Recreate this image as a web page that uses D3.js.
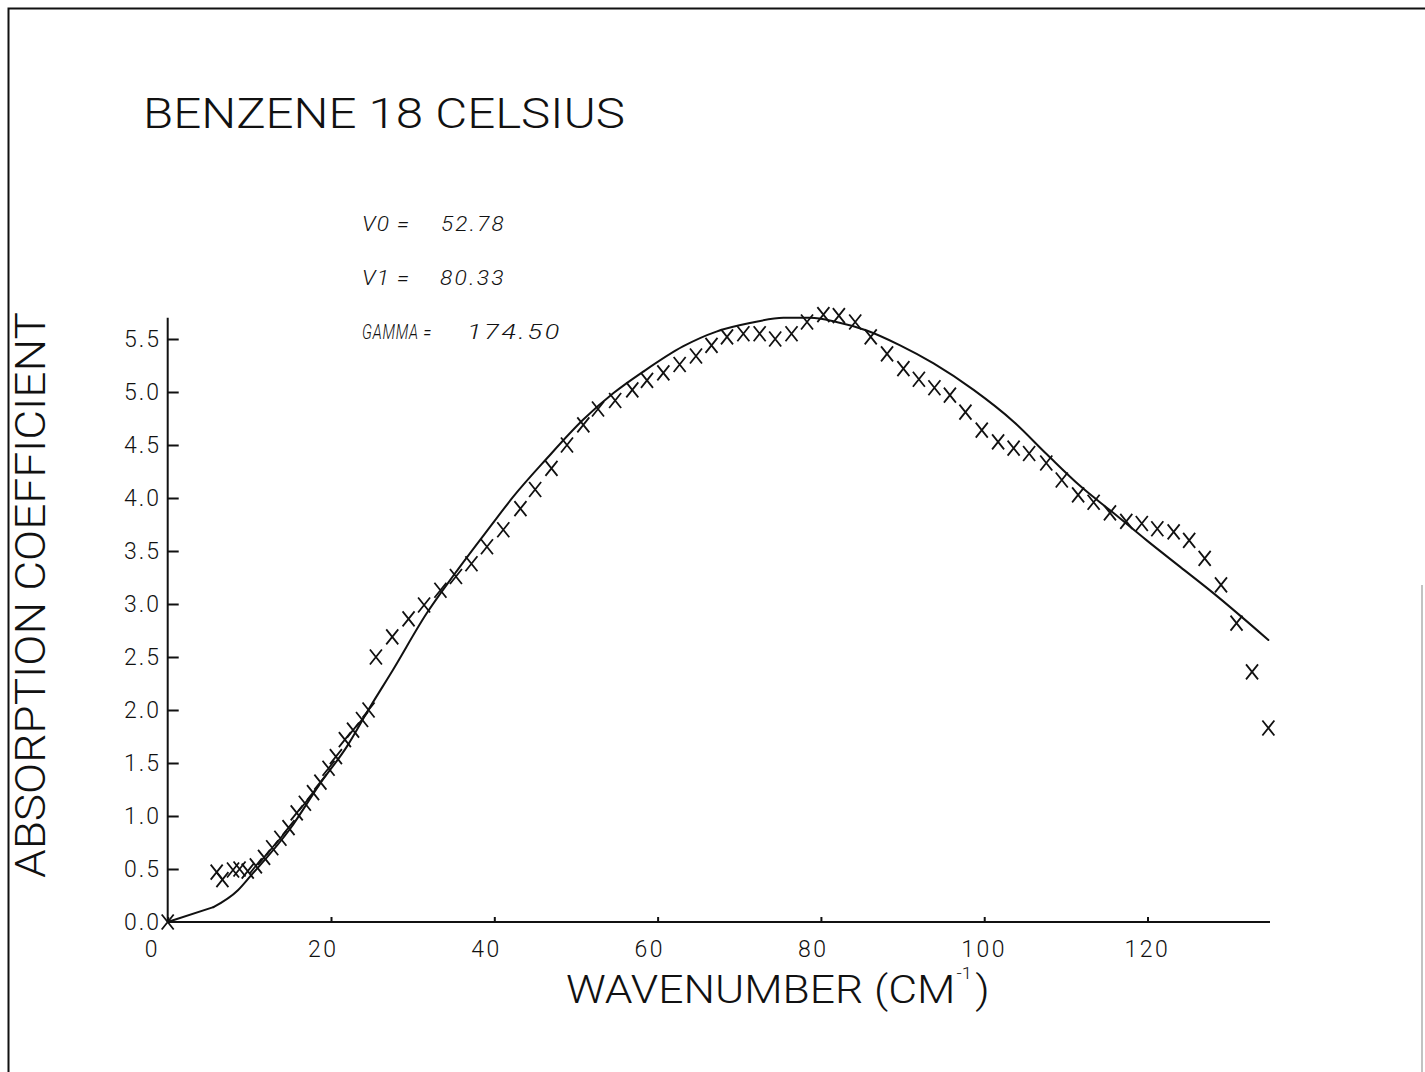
<!DOCTYPE html>
<html>
<head>
<meta charset="utf-8">
<script src="https://cdn.jsdelivr.net/npm/d3@7"></script>
<style>
  html, body { margin: 0; padding: 0; background: #fff; }
  svg { display: block; }
</style>
</head>
<body>
<script>
// Measured absorption coefficient of benzene at 18 °C (plotted as crosses)
const wavenumber = [
  0,
  6.0, 6.7, 8.0, 8.8, 9.8, 10.8, 11.8, 12.8, 13.8, 14.8,
  15.8, 16.8, 17.8, 18.7, 19.7, 20.6, 21.7, 22.7, 23.8, 24.6,
  25.5, 27.5, 29.5, 31.4, 33.4, 35.3, 37.2, 39.1, 41.1, 43.2,
  45.0, 47.0, 48.9, 50.9, 52.7, 54.8, 56.9, 58.7, 60.7, 62.7,
  64.7, 66.6, 68.5, 70.5, 72.5, 74.4, 76.4, 78.3, 80.3, 82.2,
  84.2, 86.1, 88.1, 90.1, 92.0, 93.9, 95.8, 97.7, 99.7, 101.7,
  103.6, 105.5, 107.6, 109.5, 111.5, 113.4, 115.4, 117.4, 119.3, 121.2,
  123.2, 125.1, 127.0, 129.0, 130.9, 132.8, 134.8
];
const absorption = [
  0,
  0.47, 0.40, 0.49, 0.50, 0.48, 0.53, 0.61, 0.70, 0.79, 0.89,
  1.03, 1.12, 1.22, 1.32, 1.45, 1.56, 1.72, 1.81, 1.91, 2.00,
  2.50, 2.69, 2.86, 2.99, 3.13, 3.26, 3.38, 3.54, 3.70, 3.90,
  4.08, 4.28, 4.50, 4.69, 4.84, 4.92, 5.02, 5.11, 5.18, 5.26,
  5.34, 5.44, 5.52, 5.55, 5.55, 5.50, 5.55, 5.66, 5.73, 5.72,
  5.66, 5.52, 5.36, 5.22, 5.12, 5.04, 4.97, 4.81, 4.64, 4.53,
  4.47, 4.42, 4.33, 4.17, 4.03, 3.96, 3.86, 3.78, 3.76, 3.71,
  3.68, 3.60, 3.43, 3.18, 2.82, 2.36, 1.83
];

// Fitted line shape (solid curve)
const fitWavenumber = [
  0, 5.6, 8.6, 10.1, 15.0, 18.7, 21.9, 24.8, 27.6, 31.7,
  35.2, 39.5, 42.3, 46.4, 50.9, 54.6, 58.2, 63.1, 67.2, 71.3,
  75.4, 78.7, 81.9, 85.6, 89.7, 93.8, 98.7, 103.6, 107.7, 111.8,
  115.8, 119.9, 124.0, 128.1, 134.8
];
const fitAbsorption = [
  0, 0.14, 0.30, 0.43, 0.88, 1.31, 1.65, 2.03, 2.38, 2.91,
  3.29, 3.73, 4.01, 4.37, 4.74, 4.99, 5.19, 5.43, 5.57, 5.65,
  5.70, 5.70, 5.66, 5.58, 5.44, 5.27, 5.02, 4.72, 4.41, 4.11,
  3.86, 3.60, 3.35, 3.10, 2.66
];

// Axis ticks and labels
const xTicks = [0, 20, 40, 60, 80, 100, 120];
const yTicks = [0, 0.5, 1.0, 1.5, 2.0, 2.5, 3.0, 3.5, 4.0, 4.5, 5.0, 5.5];
const yTickLabels = ["0.0", "0.5", "1.0", "1.5", "2.0", "2.5", "3.0", "3.5", "4.0", "4.5", "5.0", "5.5"];

// Fit parameters printed on the plot
const paramNames = ["V0", "V1", "GAMMA"];
const paramValues = ["52.78", "80.33", "174.50"];

const titleText = "BENZENE 18 CELSIUS";
const xLabelMain = "WAVENUMBER (CM";
const xLabelExp = "-1";
const yLabelText = "ABSORPTION COEFFICIENT";

const W = 1425, H = 1072;
const FONT = "Roboto, 'DejaVu Sans', sans-serif";
const INK = "#111";

const svg = d3.select("body").append("svg")
  .attr("width", W).attr("height", H)
  .attr("viewBox", `0 0 ${W} ${H}`);

svg.append("rect").attr("width", W).attr("height", H).attr("fill", "#fff");

// Sheet border
svg.append("path")
  .attr("d", `M8.5,${H} V8.5 H${W}`)
  .attr("fill", "none").attr("stroke", INK).attr("stroke-width", 2);
svg.append("line")
  .attr("x1", 1422).attr("x2", 1422).attr("y1", 585).attr("y2", H)
  .attr("stroke", "#999").attr("stroke-width", 1.2);

const x = d3.scaleLinear().domain([0, 135]).range([167.7, 1270]);
const y = d3.scaleLinear().domain([0, 5.7]).range([922, 317.8]);

// Axes: plain lines with inward ticks
const xAxis = d3.axisTop(x).tickValues(xTicks).tickSize(5).tickFormat("");
const gx = svg.append("g").attr("transform", `translate(0,${y(0)})`).call(xAxis);
gx.select(".domain").attr("d", `M${x(0)},0H${x(135)}`);
gx.selectAll("path, line").attr("stroke", INK).attr("stroke-width", 2);

const yAxis = d3.axisRight(y).tickValues(yTicks.slice(1)).tickSize(11).tickFormat("");
const gy = svg.append("g").attr("transform", `translate(${x(0)},0)`).call(yAxis);
gy.select(".domain").attr("d", `M0,${y(0)}V${y(5.7)}`);
gy.selectAll("path, line").attr("stroke", INK).attr("stroke-width", 2);

// Tick labels
svg.append("g").selectAll("text").data(xTicks).join("text")
  .attr("x", d => x(d) - 23)
  .attr("y", 957)
  .attr("font-family", FONT).attr("font-weight", 300)
  .attr("font-size", 23).attr("fill", INK)
  .attr("letter-spacing", 2.5)
  .text(d => d);

svg.append("g").selectAll("text").data(yTicks).join("text")
  .attr("x", 124)
  .attr("y", d => y(d) + 7.8)
  .attr("font-family", FONT).attr("font-weight", 300)
  .attr("font-size", 23).attr("fill", INK)
  .attr("letter-spacing", 2)
  .text((d, i) => yTickLabels[i]);

// Stretch a text block horizontally so it spans the given width
function stretch(text, width) {
  const bb = text.node().getBBox();
  const sx = width / bb.width;
  text.attr("transform", `scale(${sx},1) translate(${-bb.x},0)`);
}

// Title
{
  const g = svg.append("g").attr("transform", "translate(143,128)");
  const t = g.append("text")
    .attr("font-family", FONT).attr("font-weight", 300)
    .attr("font-size", 42).attr("fill", INK)
    .text(titleText);
  stretch(t, 482);
}

// X axis title with superscript
{
  const g = svg.append("g").attr("transform", "translate(566,1003)");
  const t = g.append("text")
    .attr("font-family", FONT).attr("font-weight", 300)
    .attr("font-size", 39).attr("fill", INK);
  t.append("tspan").text(xLabelMain);
  t.append("tspan").attr("font-size", 16).attr("dy", -24.5).attr("dx", 1).text(xLabelExp);
  t.append("tspan").attr("dy", 24.5).attr("dx", 3).text(")");
  stretch(t, 424);
}

// Y axis title, rotated
{
  const g = svg.append("g").attr("transform", "translate(45,878) rotate(-90)");
  const t = g.append("text")
    .attr("font-family", FONT).attr("font-weight", 300)
    .attr("font-size", 42).attr("fill", INK)
    .text(yLabelText);
  stretch(t, 566);
}

// Fit parameters
const paramY = [231, 285, 339];
const nameWidth = [48, 48, 70];
const valueX = [441, 440, 467];
const valueWidth = [65, 66, 95];
paramNames.forEach((name, i) => {
  const gn = svg.append("g").attr("transform", `translate(362,${paramY[i]})`);
  const tn = gn.append("text")
    .attr("font-family", FONT).attr("font-style", "italic").attr("font-weight", 300)
    .attr("font-size", 20).attr("fill", INK)
    .attr("letter-spacing", 1)
    .text(`${name} =`);
  stretch(tn, nameWidth[i]);
  const gv = svg.append("g").attr("transform", `translate(${valueX[i]},${paramY[i]})`);
  const tv = gv.append("text")
    .attr("font-family", FONT).attr("font-style", "italic").attr("font-weight", 300)
    .attr("font-size", 20).attr("fill", INK)
    .attr("letter-spacing", 2)
    .text(paramValues[i]);
  stretch(tv, valueWidth[i]);
});

// Fitted curve: straight from the origin to the first computed point, smooth after
const fitPts = fitWavenumber.map((v, i) => [v, fitAbsorption[i]]);
svg.append("path")
  .datum(fitPts.slice(0, 2))
  .attr("fill", "none").attr("stroke", INK).attr("stroke-width", 2)
  .attr("stroke-linecap", "round")
  .attr("d", d3.line().x(d => x(d[0])).y(d => y(d[1])));
svg.append("path")
  .datum(fitPts.slice(1))
  .attr("fill", "none").attr("stroke", INK).attr("stroke-width", 2)
  .attr("stroke-linejoin", "round").attr("stroke-linecap", "round")
  .attr("d", d3.line().x(d => x(d[0])).y(d => y(d[1])).curve(d3.curveMonotoneX));

// Measured points as crosses
const cross = "M-6,-7.5L6,7.5M6,-7.5L-6,7.5";
svg.append("g").selectAll("path").data(wavenumber.map((v, i) => [v, absorption[i]])).join("path")
  .attr("transform", d => `translate(${x(d[0])},${y(d[1])})`)
  .attr("d", cross)
  .attr("fill", "none").attr("stroke", INK).attr("stroke-width", 1.8);
</script>
</body>
</html>
